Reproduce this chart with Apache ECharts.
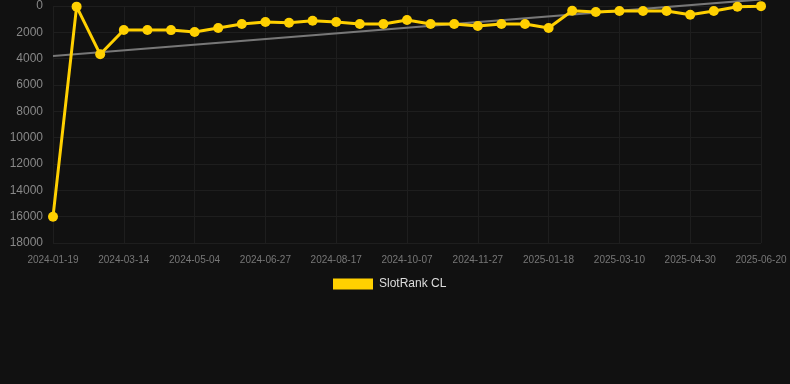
<!DOCTYPE html>
<html>
<head>
<meta charset="utf-8">
<script src="https://cdn.jsdelivr.net/npm/echarts@6/dist/echarts.min.js"></script>
<style>
  html, body { margin: 0; padding: 0; background: #111111; }
  #char { width: 790px; height: 384px; }
</style>
</head>
<body>
<div id="char"></div>
<script>
var dates = [
    '2024-01-19', '2024-02-06', '2024-02-24', '2024-03-14', '2024-03-31', '2024-04-17',
    '2024-05-04', '2024-05-22', '2024-06-09', '2024-06-27', '2024-07-14', '2024-07-31',
    '2024-08-17', '2024-09-03', '2024-09-20', '2024-10-07', '2024-10-24', '2024-11-10',
    '2024-11-27', '2024-12-14', '2024-12-31', '2025-01-18', '2025-02-04', '2025-02-21',
    '2025-03-10', '2025-03-27', '2025-04-13', '2025-04-30', '2025-05-17', '2025-06-03',
    '2025-06-20'
];
var rankValues = [
    16000, 50, 3670, 1820, 1820, 1830,
    1980, 1670, 1370, 1220, 1270, 1120,
    1220, 1370, 1370, 1060, 1370, 1370,
    1520, 1370, 1370, 1670, 360, 460,
    380, 380, 380, 660, 380, 60,
    10
];
// trend line end points (first and last date)
var trendValues = [3800, -500];
var seriesName = 'SlotRank CL';

var dom = document.getElementById("char");
var myChart = echarts.init(dom);

option = {
    backgroundColor: '#111111',
    animation: false,
    grid: {
        left: 53,
        right: 29,
        top: 6,
        height: 237
    },
    legend: {
        data: [seriesName],
        top: 278,
        left: 333,
        padding: 0,
        itemWidth: 40,
        itemHeight: 11,
        itemGap: 10,
        icon: 'rect',
        textStyle: {
            color: '#dddddd',
            fontSize: 12,
            padding: [0, 0, 0, 1],
            fontFamily: 'Liberation Sans'
        }
    },
    xAxis: {
        type: 'category',
        data: dates,
        boundaryGap: false,
        axisLine: { show: false },
        axisTick: { show: false },
        axisLabel: {
            interval: 2,
            color: '#777777',
            fontSize: 10,
            margin: 12,
            fontFamily: 'Liberation Sans'
        },
        splitLine: {
            show: true,
            interval: 2,
            lineStyle: { color: '#1e1e1e', width: 1 }
        }
    },
    yAxis: {
        type: 'value',
        inverse: true,
        min: 0,
        max: 18000,
        interval: 2000,
        axisLine: { show: false },
        axisTick: { show: false },
        axisLabel: {
            color: '#888888',
            fontSize: 12,
            margin: 10,
            fontFamily: 'Liberation Sans',
            formatter: function (v) { return String(v); }
        },
        splitLine: {
            lineStyle: { color: '#1e1e1e', width: 1 }
        }
    },
    series: [
        {
            name: 'trend',
            type: 'line',
            data: [[dates[0], trendValues[0]], [dates[dates.length - 1], trendValues[1]]],
            symbol: 'none',
            clip: false,
            lineStyle: { color: '#777777', width: 2 },
            z: 1
        },
        {
            name: seriesName,
            type: 'line',
            data: rankValues,
            symbol: 'circle',
            symbolSize: 10,
            itemStyle: { color: '#ffd000' },
            lineStyle: { color: '#ffd000', width: 3 },
            z: 2
        }
    ]
};
myChart.setOption(option);
</script>
</body>
</html>
